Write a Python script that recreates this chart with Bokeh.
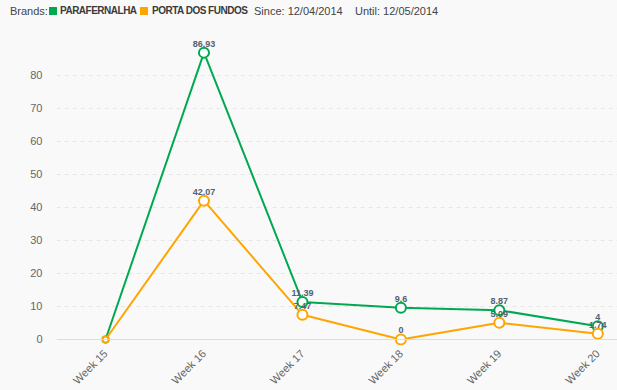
import math
from bokeh.plotting import figure
from bokeh.layouts import column
from bokeh.models import ColumnDataSource, FixedTicker, Span, Range1d, Div
from bokeh.core.properties import value
from bokeh.embed import file_html
from bokeh.resources import INLINE

weeks = ["Week 15", "Week 16", "Week 17", "Week 18", "Week 19", "Week 20"]
parafernalha = [0, 86.93, 11.39, 9.6, 8.87, 4]
porta_dos_fundos = [0, 42.07, 7.47, 0, 5.09, 1.74]
y_ticks = [0, 10, 20, 30, 40, 50, 60, 70, 80]
brands = ["PARAFERNALHA", "PORTA DOS FUNDOS"]
since = "12/04/2014"
until = "12/05/2014"

GREEN = "#00A951"
ORANGE = "#FFA500"
BG = "#F9F9F9"
FONT = "Liberation Sans"

TOTAL_W = 617
HEADER_H = 25
FW, FH = 561, 320

# ---- header ----
def span(left, text, color, weight, size=11, ls=0.0):
    return ('<span style="position:absolute;left:%dpx;top:0;line-height:22px;font-size:%dpx;'
            'letter-spacing:%.1fpx;color:%s;font-weight:%s;white-space:nowrap;">%s</span>'
            % (left, size, ls, color, weight, text))

def box(left, color):
    return ('<span style="position:absolute;left:%dpx;top:7px;width:8px;height:8px;'
            'background:%s;"></span>' % (left, color))

html = ('<div style="position:relative;width:%dpx;height:%dpx;font-family:\'%s\';'
        'background:%s;">' % (TOTAL_W, HEADER_H, FONT, BG)
        + span(10, "Brands:", "#444444", "normal")
        + box(49, GREEN)
        + span(60, brands[0], "#3A3A3A", "bold", 10, -0.5)
        + box(140, ORANGE)
        + span(152, brands[1], "#3A3A3A", "bold", 10, -0.5)
        + span(254, "Since: " + since, "#444444", "normal")
        + span(355, "Until: " + until, "#444444", "normal")
        + '</div>')
hdr = Div(text=html, width=TOTAL_W, height=HEADER_H, margin=0,
          styles={"background-color": BG})

# ---- main chart ----
p = figure(frame_width=FW, frame_height=FH, output_backend="svg", toolbar_location=None,
           x_range=Range1d(-0.498, 5.2), y_range=Range1d(-1.82, 95.15),
           min_border_left=56, min_border_right=0, min_border_top=0,
           min_border_bottom=42, background_fill_color=BG, border_fill_color=BG,
           outline_line_color=None, margin=0)

xs = list(range(len(weeks)))

p.add_layout(Span(location=0, dimension="width", line_color="#DDDDDD", line_width=1))

for vals, col in [(parafernalha, GREEN), (porta_dos_fundos, ORANGE)]:
    sizes = [6 if i == 0 else 10 for i in xs]
    labels = ["" if i == 0 else ("%g" % v) for i, v in zip(xs, vals)]
    src = ColumnDataSource(dict(x=xs, y=vals, s=sizes, t=labels))
    p.line("x", "y", source=src, line_color=col, line_width=2)
    p.scatter("x", "y", source=src, size="s", fill_color="white", line_color=col, line_width=2)
    p.text("x", "y", text="t", source=src, text_align="center", text_baseline="bottom",
           y_offset=-6, text_font=value(FONT), text_font_size="9px", text_font_style="bold",
           text_color="#556070")

p.xgrid.visible = False
p.ygrid.ticker = FixedTicker(ticks=y_ticks[1:])
p.ygrid.grid_line_color = "#E6E6E6"
p.ygrid.grid_line_dash = "4 4"

p.yaxis.ticker = FixedTicker(ticks=y_ticks)
p.yaxis.axis_line_color = None
p.yaxis.major_tick_line_color = None
p.yaxis.minor_tick_line_color = None
p.yaxis.major_label_text_color = "#666666"
p.yaxis.major_label_text_font = FONT
p.yaxis.major_label_text_font_size = "11px"
p.yaxis.major_label_standoff = 8

p.xaxis.ticker = FixedTicker(ticks=xs)
p.xaxis.major_label_overrides = {i: w for i, w in zip(xs, weeks)}
p.xaxis.axis_line_color = None
p.xaxis.major_tick_line_color = None
p.xaxis.minor_tick_line_color = None
p.xaxis.major_label_orientation = math.pi / 4
p.xaxis.major_label_text_color = "#666666"
p.xaxis.major_label_text_font = FONT
p.xaxis.major_label_text_font_size = "11px"
p.xaxis.major_label_standoff = 0

layout = column(hdr, p, spacing=0, margin=0, styles={"background-color": BG})
open("out.html", "w").write(file_html(layout, INLINE))
